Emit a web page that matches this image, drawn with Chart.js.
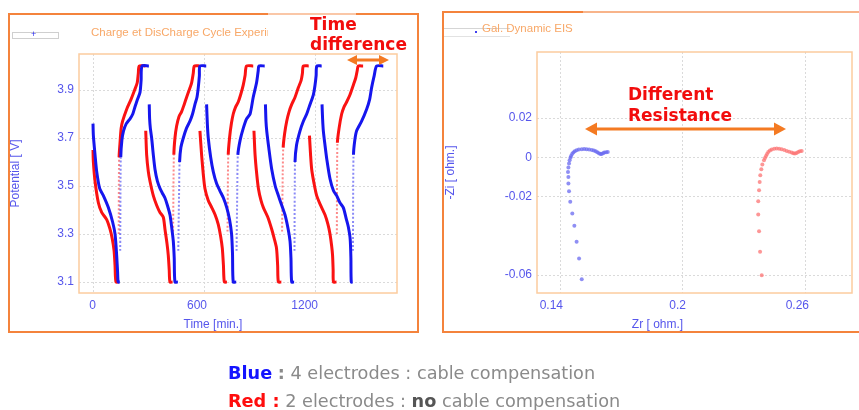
<!DOCTYPE html>
<html><head><meta charset="utf-8">
<script src="https://cdn.jsdelivr.net/npm/chart.js@4/dist/chart.umd.min.js"></script>
<style>
html,body{margin:0;padding:0;background:#fff;overflow:hidden;width:859px;height:410px;}
body{position:relative;font-family:"Liberation Sans",Arial,sans-serif;}
.abs{position:absolute;}
canvas{position:absolute;}
.panel{position:absolute;border:2px solid #f4833c;box-sizing:content-box;}
.note{position:absolute;font-family:"DejaVu Sans",Verdana,sans-serif;font-weight:bold;color:#f20d0d;white-space:nowrap;}
.bottom{position:absolute;left:228px;font-family:"DejaVu Sans",Verdana,sans-serif;font-size:17.7px;line-height:20px;color:#8a8a8a;white-space:nowrap;}
</style></head>
<body>
<div class="panel" style="left:8px;top:13px;width:407px;height:316px;"></div>
<div class="panel" style="left:442px;top:11px;width:430px;height:318px;"></div>
<div class="abs" style="left:268px;top:12px;width:88px;height:4px;background:rgba(255,255,255,0.55)"></div>
<div class="abs" style="left:583px;top:10px;width:280px;height:4px;background:rgba(255,255,255,0.4)"></div>

<canvas id="c1" width="406" height="316" style="left:10px;top:15px;width:406px;height:316px"></canvas>
<canvas id="c2" width="425" height="317" style="left:445px;top:14px;width:425px;height:317px"></canvas>

<div class="abs" style="left:12px;top:32px;width:45px;height:5px;border:1px solid #cfcfcf;"></div>
<div class="abs" style="left:31px;top:29px;font:9px 'Liberation Sans';color:#3030f0">+</div>
<div class="abs" style="left:444px;top:28px;width:66px;height:7px;border-top:1px solid #d5d5d5;border-bottom:1px solid #e2e2e2;"></div>
<div class="abs" style="left:475px;top:31px;width:2px;height:2px;background:#4040f0"></div>

<div class="abs" style="left:91px;top:26px;width:177px;overflow:hidden;white-space:nowrap;font-size:11.5px;line-height:13px;color:#f8a868">Charge et DisCharge Cycle Experiment</div>
<div class="abs" style="left:482px;top:22px;white-space:nowrap;font-size:11.5px;line-height:13px;color:#f8a868">Gal. Dynamic EIS</div>

<div class="note" style="left:310px;top:14px;font-size:17px;line-height:20px;">Time<br>difference</div>
<div class="note" style="left:628px;top:84px;font-size:17px;line-height:21px;">Different<br>Resistance</div>

<svg class="abs" style="left:0;top:0" width="859" height="410">
  <g fill="#f47a22" stroke="none">
    <rect x="355" y="58.5" width="26" height="3"/>
    <polygon points="347,60 357,55 357,65"/>
    <polygon points="389,60 379,55 379,65"/>
    <rect x="595" y="127.5" width="181" height="3"/>
    <polygon points="585,129 597,122.5 597,135.5"/>
    <polygon points="786,129 774,122.5 774,135.5"/>
  </g>
</svg>

<div class="bottom" style="top:363px;"><b style="color:#1414ff">Blue</b> <b>:</b> 4 electrodes : cable compensation</div>
<div class="bottom" style="top:391px;"><b style="color:#ff0d0d">Red :</b> 2 electrodes : <b style="color:#555">no</b> cable compensation</div>

<script>
// ---- Charge / discharge cycles (time in min, potential in V); null = break in the curve
const blueTime = [0,2,11,20,36,56,83,106,119,128,133,136,145, null,
  147,150,156,165,180,200,215,227,240,254,260,265,302, null,
  304,306,310,317,326,335,348,362,375,389,402,416,425,434,439,443,459, null,
  461,465,468,475,488,505,524,538,551,562,569,575,578,612, null,
  614,618,623,636,650,668,686,705,723,738,749,754,758,774, null,
  776,780,783,795,812,830,849,866,884,893,897,928, null,
  932,935,939,950,966,985,1002,1020,1038,1055,1065,1070,1074,1087, null,
  1089,1092,1100,1119,1137,1155,1173,1191,1200,1206,1210,1236, null,
  1238,1241,1245,1254,1264,1281,1300,1317,1335,1353,1370,1380,1390,1394,1396,1404, null,
  1405,1408,1415,1425,1452,1479,1495,1506,1520,1533,1569];
const blueVolt = [3.76,3.71,3.63,3.56,3.49,3.46,3.41,3.35,3.30,3.21,3.14,3.10,3.10, null,
  3.23,3.62,3.69,3.73,3.76,3.78,3.80,3.83,3.86,3.89,3.94,4.00,4.00, null,
  3.84,3.78,3.74,3.70,3.63,3.57,3.52,3.49,3.47,3.45,3.42,3.38,3.33,3.27,3.20,3.10,3.10, null,
  3.23,3.46,3.60,3.66,3.70,3.74,3.77,3.80,3.84,3.87,3.91,3.96,4.00,4.00, null,
  3.84,3.76,3.70,3.62,3.56,3.51,3.48,3.45,3.41,3.36,3.30,3.22,3.10,3.10, null,
  3.23,3.50,3.63,3.69,3.74,3.78,3.80,3.87,3.93,3.98,4.00,4.00, null,
  3.84,3.77,3.73,3.66,3.57,3.50,3.46,3.42,3.38,3.32,3.27,3.20,3.10,3.10, null,
  3.23,3.60,3.67,3.73,3.77,3.80,3.84,3.88,3.92,3.96,4.00,4.00, null,
  3.84,3.78,3.73,3.67,3.61,3.53,3.48,3.46,3.43,3.41,3.36,3.33,3.28,3.20,3.10,3.10, null,
  3.23,3.63,3.69,3.73,3.77,3.82,3.86,3.91,3.96,4.00,4.00];

const redTime = [0,2,11,29,47,74,92,104,114,119,124,138, null,
  139,141,146,152,160,182,205,225,239,245,250,283, null,
  285,290,299,308,326,344,362,380,389,400,407,412,416,430, null,
  433,437,443,452,465,479,493,506,520,533,542,548,576, null,
  578,587,596,605,623,642,660,677,690,699,705,710,724, null,
  727,731,738,748,758,771,785,798,812,822,830,866, null,
  870,876,885,894,908,921,945,966,980,992,998,1002,1018, null,
  1022,1028,1036,1047,1060,1074,1092,1110,1125,1132,1137,1166, null,
  1170,1176,1182,1195,1209,1230,1254,1270,1281,1290,1295,1298,1300,1316, null,
  1318,1321,1330,1344,1357,1371,1389,1407,1420,1428,1434,1460];
const redVolt = [3.65,3.60,3.52,3.43,3.39,3.36,3.32,3.28,3.23,3.17,3.10,3.10, null,
  3.30,3.62,3.68,3.74,3.77,3.82,3.86,3.90,3.93,3.97,4.00,4.00, null,
  3.73,3.63,3.56,3.52,3.46,3.42,3.39,3.37,3.32,3.26,3.21,3.15,3.10,3.10, null,
  3.31,3.63,3.70,3.75,3.79,3.81,3.84,3.87,3.90,3.93,3.97,4.00,4.00, null,
  3.73,3.63,3.55,3.49,3.44,3.41,3.38,3.34,3.29,3.24,3.17,3.10,3.10, null,
  3.31,3.63,3.70,3.76,3.80,3.83,3.85,3.88,3.92,3.96,4.00,4.00, null,
  3.73,3.63,3.55,3.49,3.44,3.41,3.37,3.32,3.28,3.24,3.17,3.10,3.10, null,
  3.31,3.66,3.72,3.77,3.81,3.84,3.87,3.91,3.94,3.97,4.00,4.00, null,
  3.71,3.63,3.57,3.51,3.46,3.42,3.38,3.34,3.30,3.25,3.21,3.15,3.10,3.10, null,
  3.30,3.68,3.74,3.80,3.83,3.85,3.88,3.92,3.95,3.98,4.00,4.00];

const cycleTimeTicks = [0, 600, 1200];
const potentialTicks = [3.1, 3.3, 3.5, 3.7, 3.9];

// ---- Galvanostatic EIS (Zr, -Zi in ohm)
const blueZr = [0.1506,0.1493,0.1481,0.1470,0.1460,0.1450,0.1444,0.1441,0.1441,0.1439,0.1441,0.1444,0.1447,0.1451,0.1454,0.1459,0.1465,0.1472,0.1481,0.1492,0.1506,0.1518,0.1530,0.1542,0.1555,0.1565,0.1574,0.1582,0.1590,0.1597,0.1603,0.1610,0.1616,0.1625,0.1633];
const blueZi = [-0.0622,-0.0516,-0.0431,-0.0349,-0.0287,-0.0227,-0.0173,-0.0134,-0.0100,-0.0075,-0.0052,-0.0032,-0.0015,-0.0002,0.0007,0.0016,0.0024,0.0031,0.0036,0.0039,0.0041,0.0042,0.0041,0.0039,0.0037,0.0034,0.0031,0.0025,0.0020,0.0017,0.0017,0.0020,0.0024,0.0026,0.0027];
const redZr = [0.2384,0.2376,0.2371,0.2367,0.2367,0.2371,0.2374,0.2377,0.2382,0.2387,0.2395,0.2400,0.2405,0.2410,0.2416,0.2424,0.2433,0.2445,0.2457,0.2469,0.2481,0.2494,0.2506,0.2518,0.2530,0.2538,0.2546,0.2554,0.2562,0.2570,0.2579];
const redZi = [-0.0601,-0.0482,-0.0377,-0.0292,-0.0224,-0.0168,-0.0126,-0.0092,-0.0061,-0.0037,-0.0015,-0.0004,0.0007,0.0017,0.0027,0.0034,0.0039,0.0043,0.0044,0.0043,0.0041,0.0037,0.0032,0.0028,0.0024,0.0021,0.0019,0.0022,0.0027,0.0030,0.0032];

const zrTicks = [0.14, 0.2, 0.26];
const ziTicks = [0.02, 0, -0.02, -0.06];

// ---- helpers / styles
const toXY = (xs, ys) => xs.map((x, i) => ({x: x, y: ys[i]}));
const AXIS_BLUE = '#5656ec';
const FONT = "'Liberation Sans', Arial, sans-serif";
const tickFont = {family: FONT, size: 12};
const titleFont = {family: FONT, size: 12, lineHeight: 1, weight: 'normal'};

const frame = {
  id: 'frame',
  beforeDatasetsDraw(chart) {
    const {ctx, chartArea: a} = chart;
    ctx.save();
    ctx.strokeStyle = 'rgb(252,204,158)';
    ctx.lineWidth = 1.5;
    ctx.strokeRect(a.left, a.top, a.right - a.left, a.bottom - a.top);
    ctx.restore();
  }
};

const steepRise = ctx => (ctx.p1.parsed.y - ctx.p0.parsed.y) / Math.max(ctx.p1.parsed.x - ctx.p0.parsed.x, 0.001) > 0.03;

function cycleSet(label, xs, ys, color, dotColor) {
  return {
    label, data: toXY(xs, ys), showLine: true, spanGaps: false, yAxisID: 'y',
    borderColor: color, borderWidth: 3, pointRadius: 0, tension: 0.25,
    segment: {
      borderDash: ctx => steepRise(ctx) ? [2, 2] : undefined,
      borderColor: ctx => steepRise(ctx) ? dotColor : undefined,
      borderWidth: ctx => steepRise(ctx) ? 2 : undefined
    }
  };
}

function fixedTicks(list) { return s => { s.ticks = list.map(v => ({value: v})); }; }

function axes(xMin, xMax, xList, yMin, yMax, yList, yTitle, yWidth, xHeight, rightWidth) {
  return {
    y: {
      type: 'linear', position: 'left', min: yMin, max: yMax,
      afterBuildTicks: fixedTicks(yList),
      afterFit: s => { s.width = yWidth; },
      ticks: {color: AXIS_BLUE, font: tickFont, padding: 5, callback: v => String(v)},
      grid: {color: '#dadada', drawTicks: false},
      border: {display: false, dash: [2, 2]},
      title: {display: true, text: yTitle, color: AXIS_BLUE, font: titleFont, padding: 0}
    },
    yR: {
      type: 'linear', position: 'right', display: true,
      afterFit: s => { s.width = rightWidth; },
      ticks: {display: false}, grid: {display: false}, border: {display: false}
    },
    x: {
      type: 'linear', position: 'bottom', min: xMin, max: xMax,
      afterBuildTicks: fixedTicks(xList),
      afterFit: s => { s.height = xHeight; },
      ticks: {color: AXIS_BLUE, font: tickFont, padding: 5, align: 'end', labelOffset: 3, maxRotation: 0, callback: v => String(v)},
      grid: {color: '#dadada', drawTicks: false},
      border: {display: false, dash: [2, 2]}
    }
  };
}

function baseOptions(xTitle, topPad, scales) {
  return {
    responsive: false, animation: false, events: [],
    layout: {padding: {left: 0, top: topPad, right: 0, bottom: 0}},
    plugins: {
      legend: {display: false}, tooltip: {enabled: false},
      title: {display: true, position: 'bottom', text: xTitle, color: AXIS_BLUE, font: titleFont, padding: 0}
    },
    scales
  };
}

new Chart(document.getElementById('c1'), {
  type: 'scatter',
  data: {datasets: [
    cycleSet('Blue : 4 electrodes', blueTime, blueVolt, 'rgb(22,22,238)', 'rgba(60,60,240,0.6)'),
    cycleSet('Red : 2 electrodes', redTime, redVolt, 'rgb(250,18,18)', 'rgba(250,60,60,0.6)')
  ]},
  options: baseOptions('Time [min.]', 39,
    axes(-75.7, 1643.2, cycleTimeTicks, 3.0542, 4.05, potentialTicks, 'Potential [ V]', 69, 26, 19)),
  plugins: [frame]
});

new Chart(document.getElementById('c2'), {
  type: 'scatter',
  data: {datasets: [
    {label: 'Blue', data: toXY(blueZr, blueZi), yAxisID: 'y', showLine: false, pointRadius: 2, pointBorderWidth: 0, backgroundColor: 'rgba(105,105,240,0.75)'},
    {label: 'Red', data: toXY(redZr, redZi), yAxisID: 'y', showLine: false, pointRadius: 2, pointBorderWidth: 0, backgroundColor: 'rgba(252,115,115,0.75)'}
  ]},
  options: baseOptions('Zr [ ohm.]', 38,
    axes(0.12878, 0.28244, zrTicks, -0.06917, 0.05363, ziTicks, '-Zi [ ohm.]', 92, 26, 18)),
  plugins: [frame]
});
</script>
</body></html>
